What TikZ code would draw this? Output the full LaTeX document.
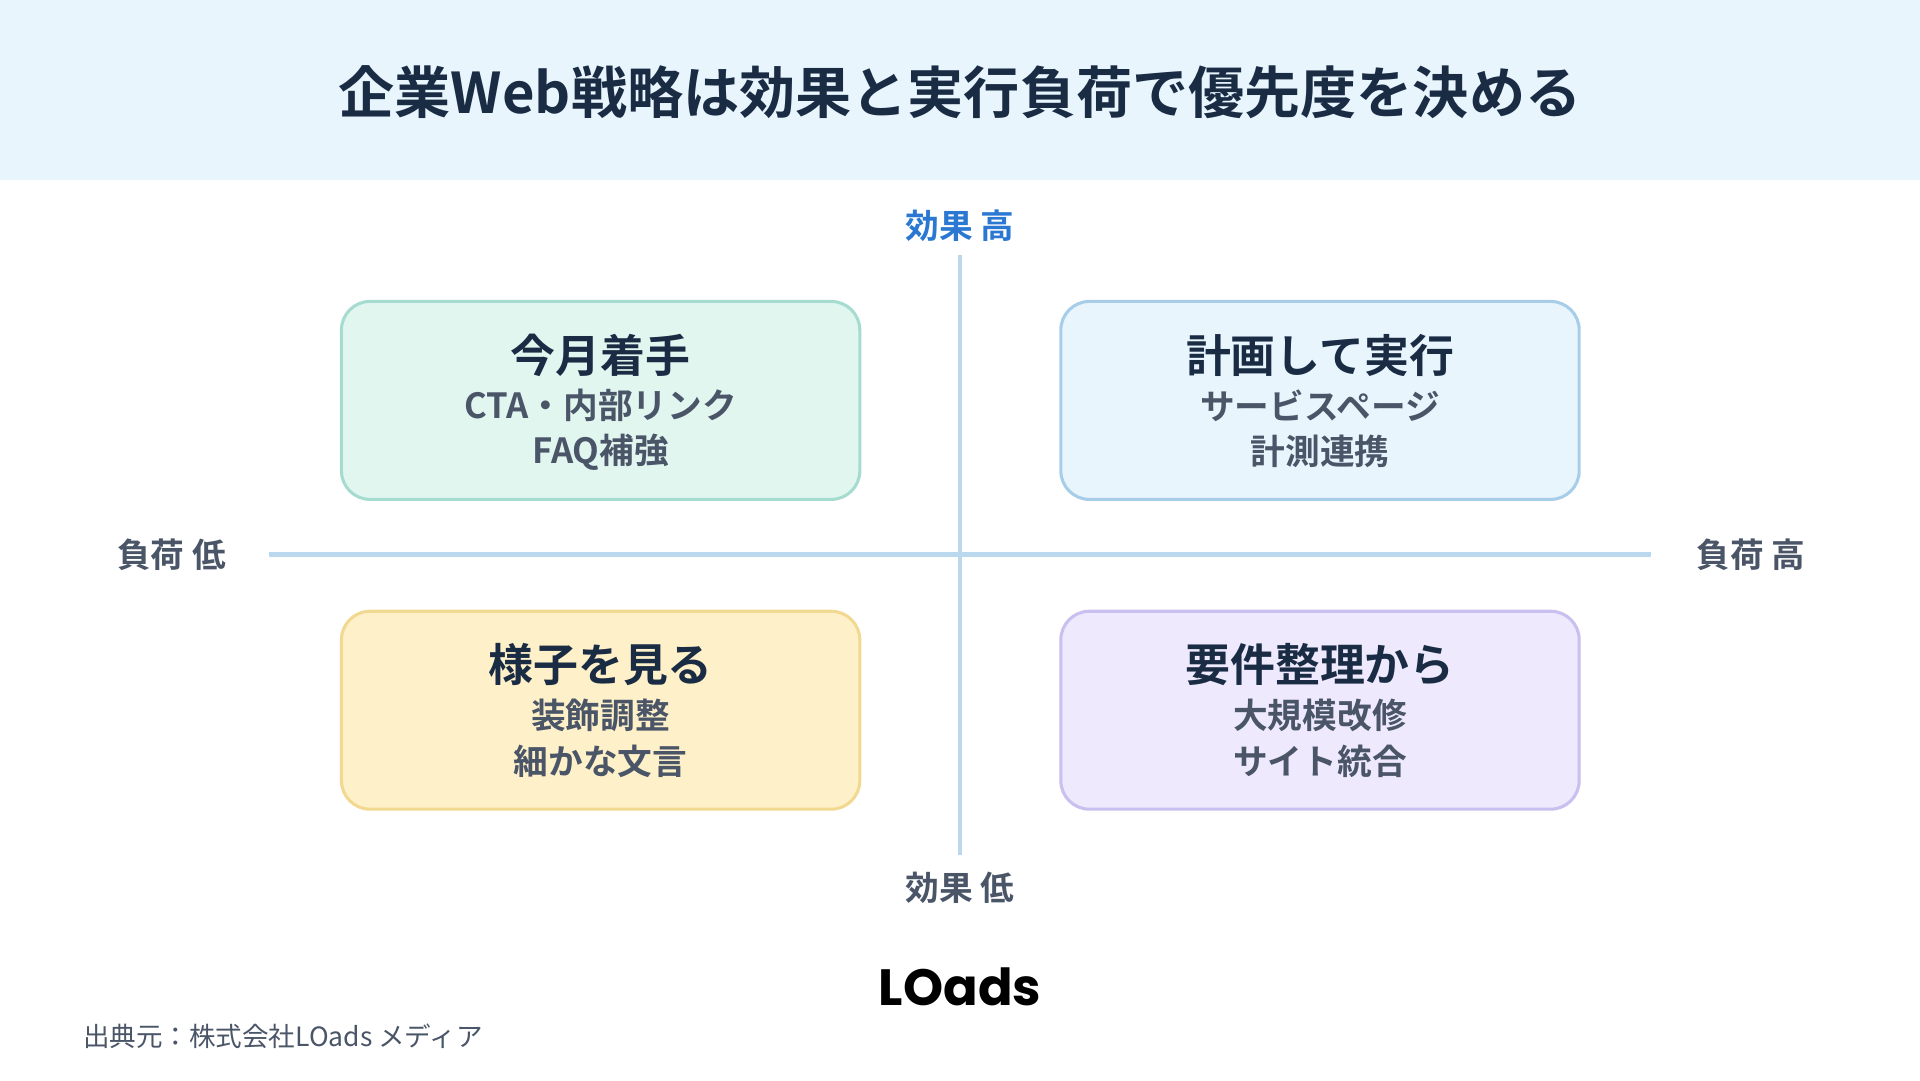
\documentclass[tikz,border=0pt]{standalone}
\usepackage{fontspec}
\setmainfont{Noto Sans CJK JP}[BoldFont={Noto Sans CJK JP Bold}]
\newfontfamily\jpb{Noto Sans CJK JP Bold}
\newfontfamily\logof{Poppins Bold}
\definecolor{navy}{HTML}{1A2B44}
\definecolor{gry}{HTML}{4A5568}
\definecolor{axis}{HTML}{BBD9EE}
\definecolor{hdr}{HTML}{E8F5FD}
\definecolor{blu}{HTML}{2A78D2}
\definecolor{f1}{HTML}{E2F6F0}\definecolor{b1}{HTML}{A6DCCF}
\definecolor{f2}{HTML}{E8F5FD}\definecolor{b2}{HTML}{A8CDE8}
\definecolor{f3}{HTML}{FEF0C8}\definecolor{b3}{HTML}{F2D992}
\definecolor{f4}{HTML}{EEE9FD}\definecolor{b4}{HTML}{C9C0F0}
\tikzset{
 quad/.style={line width=1.5pt,rounded corners=14pt,minimum width=254pt,minimum height=97pt},
 ttl/.style={font=\jpb\fontsize{22}{25}\selectfont,text=navy},
 sub/.style={font=\jpb\fontsize{17}{20}\selectfont,text=gry},
 axl/.style={font=\jpb\fontsize{16.5}{19}\selectfont,text=gry}
}
\begin{document}
\begin{tikzpicture}[x=0.6pt,y=-0.6pt]
\useasboundingbox (0,0) rectangle (1568,882);
\fill[white] (0,0) rectangle (1568,882);
\fill[hdr] (0,0) rectangle (1568,147);
\node[font=\jpb\fontsize{27.5}{32}\selectfont,text=navy] (title) at (784,75) {企業Web戦略は効果と実行負荷で優先度を決める};
\coordinate (vt) at (784,208); \coordinate (vb) at (784,698);
\coordinate (hl) at (220,453); \coordinate (hr) at (1348,453);
\draw[axis,line width=2.2pt] (vt)--(vb);
\draw[axis,line width=2.2pt] (hl)--(hr);
\node[axl,text=blu] (eh) at (784,184) {効果 高};
\node[axl] (el) at (784,725) {効果 低};
\node[axl] (ll) at (140,453) {負荷 低};
\node[axl] (lh) at (1430,453) {負荷 高};
\node[quad,draw=b1,fill=f1] (q1) at (490.5,327) {};
\node[quad,draw=b2,fill=f2] (q2) at (1078,327) {};
\node[quad,draw=b3,fill=f3] (q3) at (490.5,580) {};
\node[quad,draw=b4,fill=f4] (q4) at (1078,580) {};
\node[ttl] (t1) at (490.5,290) {今月着手};
\node[sub] (s1a) at (490.5,331) {CTA・内部リンク};
\node[sub] (s1b) at (490.5,369) {FAQ補強};
\node[ttl] (t2) at (1078,290) {計画して実行};
\node[sub] (s2a) at (1078,331) {サービスページ};
\node[sub] (s2b) at (1078,369) {計測連携};
\node[ttl] (t3) at (490.5,543) {様子を見る};
\node[sub] (s3a) at (490.5,584) {装飾調整};
\node[sub] (s3b) at (490.5,622) {細かな文言};
\node[ttl] (t4) at (1078,543) {要件整理から};
\node[sub] (s4a) at (1078,584) {大規模改修};
\node[sub] (s4b) at (1078,622) {サイト統合};
\node[font=\logof\fontsize{25}{30}\selectfont,text=black] (logo) at (784,806) {LOads};
\node[anchor=west,font=\fontsize{13}{15}\selectfont,text=gry] (src) at (62,846) {出典元：株式会社LOads メディア};
\end{tikzpicture}
\end{document}
